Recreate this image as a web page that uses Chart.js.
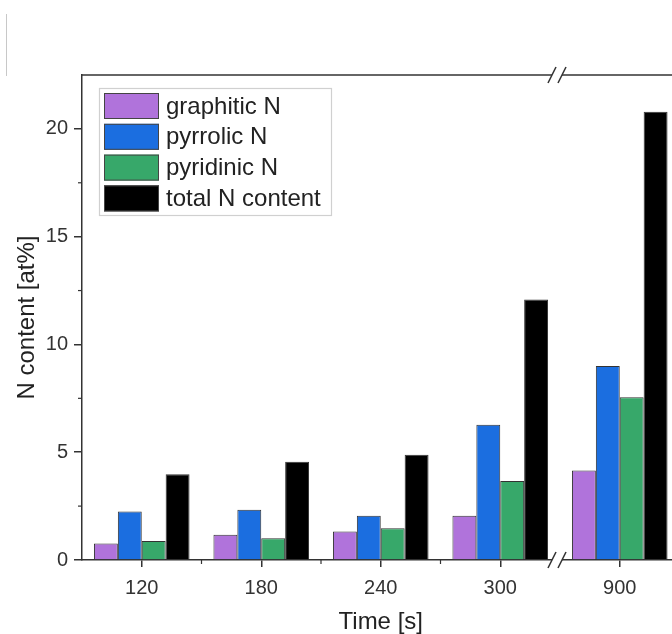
<!DOCTYPE html>
<html>
<head>
<meta charset="utf-8">
<script src="https://cdn.jsdelivr.net/npm/chart.js@4/dist/chart.umd.min.js"></script>
<style>
  html, body { margin: 0; padding: 0; background: #fff; overflow: hidden; }
  #wrap { position: relative; width: 672px; height: 634px; overflow: hidden; }
  #c { position: absolute; left: 0; top: 0; }
  #edge { position: absolute; left: 6px; top: 14px; width: 1px; height: 62px; background: #c8c8c8; }
</style>
</head>
<body>
<div id="wrap">
  <canvas id="c" width="700" height="634"></canvas>
  <div id="edge"></div>
</div>
<script>
const categories = ['120', '180', '240', '300', '900'];
const graphiticN = [0.77, 1.17, 1.32, 2.05, 4.15];
const pyrrolicN  = [2.25, 2.33, 2.05, 6.28, 9.00];
const pyridinicN = [0.88, 1.01, 1.47, 3.67, 7.55];
const totalN     = [3.98, 4.56, 4.88, 12.09, 20.80];
const yTicks = [0, 5, 10, 15, 20];
const yMinorTicks = [2.5, 7.5, 12.5, 17.5];
const seriesNames = ['graphitic N', 'pyrrolic N', 'pyridinic N', 'total N content'];
const seriesColors = ['#b073db', '#1b6ee0', '#37a86a', '#000000'];

const FONT = "'Liberation Sans', Arial, Helvetica, sans-serif";
const AXIS = '#333333';

const axisExtras = {
  id: 'axisExtras',
  afterDraw(chart) {
    const ctx = chart.ctx;
    const ca = chart.chartArea;
    const xs = chart.scales.x, ys = chart.scales.y;
    ctx.save();
    ctx.strokeStyle = AXIS;
    ctx.lineWidth = 1.5;
    // top frame line
    ctx.beginPath();
    ctx.moveTo(ca.left, ca.top);
    ctx.lineTo(ca.right + 30, ca.top);
    ctx.stroke();
    // minor y ticks
    ctx.lineWidth = 1.2;
    yMinorTicks.forEach(v => {
      const py = ys.getPixelForValue(v);
      ctx.beginPath();
      ctx.moveTo(ca.left, py);
      ctx.lineTo(ca.left - 4, py);
      ctx.stroke();
    });
    // minor x ticks at category boundaries (before break)
    for (let i = 0; i < categories.length - 2; i++) {
      const px = (xs.getPixelForValue(i) + xs.getPixelForValue(i + 1)) / 2;
      ctx.beginPath();
      ctx.moveTo(px, ca.bottom);
      ctx.lineTo(px, ca.bottom + 4);
      ctx.stroke();
    }
    // axis breaks between last two categories
    const n = categories.length;
    const bx = (xs.getPixelForValue(n - 2) + xs.getPixelForValue(n - 1)) / 2 - 3;
    [ca.top, ca.bottom].forEach(by => {
      ctx.fillStyle = '#ffffff';
      ctx.fillRect(bx - 5, by - 2, 10, 4);
      ctx.strokeStyle = AXIS;
      ctx.lineWidth = 1.5;
      [-5, 5].forEach(dx => {
        ctx.beginPath();
        ctx.moveTo(bx + dx - 4, by + 8);
        ctx.lineTo(bx + dx + 4, by - 8);
        ctx.stroke();
      });
    });
    ctx.restore();

    // legend
    const lx = ca.left + 17, ly = ca.top + 13, lw = 232, lh = 127;
    ctx.save();
    ctx.fillStyle = '#ffffff';
    ctx.fillRect(lx, ly, lw, lh);
    ctx.strokeStyle = '#d0d0d0';
    ctx.lineWidth = 1.2;
    ctx.strokeRect(lx + 0.5, ly + 0.5, lw, lh);
    chart.data.datasets.forEach((ds, i) => {
      const sy = ly + 5 + i * 30.8;
      ctx.fillStyle = ds.backgroundColor;
      ctx.fillRect(lx + 5, sy, 55, 26);
      ctx.strokeStyle = '#444';
      ctx.lineWidth = 1;
      ctx.strokeRect(lx + 5.5, sy + 0.5, 54, 25);
      ctx.fillStyle = '#222';
      ctx.font = '24px ' + FONT;
      ctx.textBaseline = 'middle';
      ctx.textAlign = 'left';
      ctx.fillText(ds.label, lx + 67, sy + 14);
    });
    ctx.restore();
  }
};

const seriesData = [graphiticN, pyrrolicN, pyridinicN, totalN];

new Chart(document.getElementById('c'), {
  type: 'bar',
  data: {
    labels: categories,
    datasets: seriesData.map((d, i) => ({
      label: seriesNames[i],
      data: d,
      backgroundColor: seriesColors[i],
      borderColor: '#333333',
      borderWidth: 1,
      categoryPercentage: 0.8,
      barPercentage: 1.0
    }))
  },
  options: {
    responsive: false,
    animation: false,
    devicePixelRatio: 1,
    layout: { padding: { top: 75, right: 20.5, left: 0, bottom: 0 } },
    plugins: { legend: { display: false }, tooltip: { enabled: false } },
    scales: {
      x: {
        type: 'category',
        offset: true,
        grid: { display: true, drawOnChartArea: false, offset: false, tickLength: 7, color: AXIS, lineWidth: 1.5 },
        border: { display: true, color: AXIS, width: 1.5 },
        ticks: { font: { size: 20, family: FONT }, color: '#333', padding: 9, maxRotation: 0 },
        title: { display: true, text: 'Time [s]', font: { size: 24, family: FONT, lineHeight: 1.0 }, color: '#222', padding: { top: 0, bottom: 0 } },
        afterFit: s => { s.height = 74; }
      },
      y: {
        min: 0,
        max: 22.5,
        grid: { display: true, drawOnChartArea: false, tickLength: 8, color: AXIS, lineWidth: 1.5 },
        border: { display: true, color: AXIS, width: 1.5 },
        ticks: { font: { size: 20, family: FONT }, color: '#333', padding: 6 },
        afterBuildTicks: s => { s.ticks = yTicks.map(v => ({ value: v })); },
        title: { display: true, text: 'N content [at%]', font: { size: 24, family: FONT, lineHeight: 1.0 }, color: '#222', padding: { top: 15, bottom: 0 } },
        afterFit: s => { s.width = 82; }
      }
    }
  },
  plugins: [axisExtras]
});
</script>
</body>
</html>
